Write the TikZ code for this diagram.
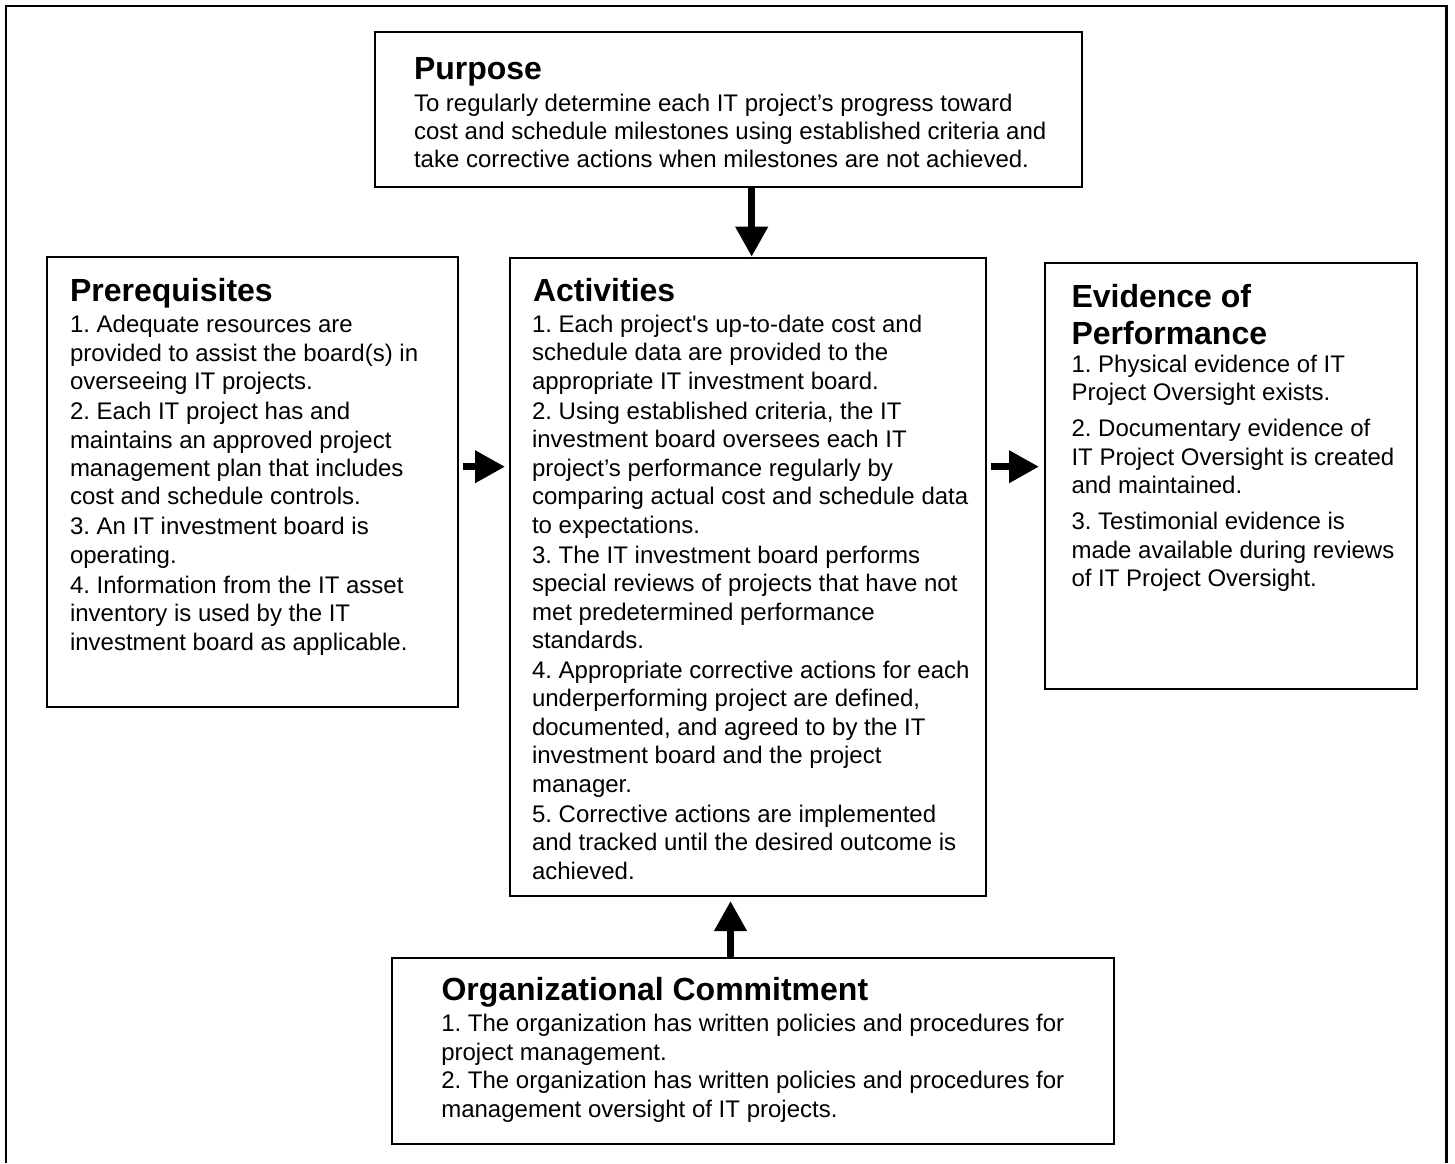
\documentclass[tikz,border=0pt]{standalone}
\usepackage{fontspec}
\setmainfont{Liberation Sans}
\usetikzlibrary{arrows.meta}
\frenchspacing
\newcommand\lne[1]{\hbox{#1}}
\newcommand\gap[1]{\vskip #1\relax}
\newcommand\bodytext[2]{\vtop{\fontsize{12}{#1}\selectfont #2}}
\begin{document}
\begin{tikzpicture}[x=0.5pt,y=-0.5pt,
  box/.style={draw, line width=1pt, inner sep=0pt, anchor=north west},
  txt/.style={inner sep=0pt, outer sep=0pt, anchor=base west},
  ttl/.style={font=\fontsize{16}{18.3}\selectfont\bfseries},
  bigarrow/.style={line width=3.5pt, -{Triangle[length=15pt,width=15.5pt]}}]
\useasboundingbox (0,0) rectangle (1455,1163);
% outer frame (open at the bottom)
\draw[line width=1.1pt] (6,1163) -- (6,6) -- (1446.5,6) -- (1446.5,1163);

% boxes
\node[box, minimum width=353.5pt, minimum height=77.35pt] (purpose) at (374,31) {};
\node[box, minimum width=205.65pt, minimum height=225pt] (prereq) at (46,256) {};
\node[box, minimum width=237.75pt, minimum height=319.15pt] (activ) at (509,256.7) {};
\node[box, minimum width=186pt, minimum height=213.3pt] (evid) at (1044,261.7) {};
\node[box, minimum width=361.3pt, minimum height=93.3pt] (orgc) at (390.7,956.7) {};

% Purpose
\node[txt, ttl] (purposeT) at (414,79.3) {Purpose};
\node[txt] (purposeB) at (414,111) {\bodytext{14.2pt}{%
  \lne{To regularly determine each IT project’s progress toward}
  \lne{cost and schedule milestones using established criteria and}
  \lne{take corrective actions when milestones are not achieved.}}};

% Prerequisites
\node[txt, ttl] (prereqT) at (70,301.7) {Prerequisites};
\node[txt] (prereqB) at (70,332.7) {\bodytext{14.225pt}{%
  \lne{1. Adequate resources are}
  \lne{provided to assist the board(s) in}
  \lne{overseeing IT projects.}\gap{0.75pt}
  \lne{2. Each IT project has and}
  \lne{maintains an approved project}
  \lne{management plan that includes}
  \lne{cost and schedule controls.}\gap{0.75pt}
  \lne{3. An IT investment board is}
  \lne{operating.}\gap{0.75pt}
  \lne{4. Information from the IT asset}
  \lne{inventory is used by the IT}
  \lne{investment board as applicable.}}};

% Activities
\node[txt, ttl] (activT) at (533,301) {Activities};
\node[txt] (activB) at (532,332.5) {\bodytext{14.225pt}{%
  \lne{1. Each project\textquotesingle s up-to-date cost and}
  \lne{schedule data are provided to the}
  \lne{appropriate IT investment board.}\gap{0.75pt}
  \lne{2. Using established criteria, the IT}
  \lne{investment board oversees each IT}
  \lne{project’s performance regularly by}
  \lne{comparing actual cost and schedule data}
  \lne{to expectations.}\gap{0.75pt}
  \lne{3. The IT investment board performs}
  \lne{special reviews of projects that have not}
  \lne{met predetermined performance}
  \lne{standards.}\gap{0.75pt}
  \lne{4. Appropriate corrective actions for each}
  \lne{underperforming project are defined,}
  \lne{documented, and agreed to by the IT}
  \lne{investment board and the project}
  \lne{manager.}\gap{0.75pt}
  \lne{5. Corrective actions are implemented}
  \lne{and tracked until the desired outcome is}
  \lne{achieved.}}};

% Evidence of Performance
\node[txt, ttl] (evidT) at (1071.5,307.7) {\vtop{\fontsize{16}{18.3}\selectfont\bfseries
  \lne{Evidence of}
  \lne{Performance}}};
\node[txt] (evidB) at (1071.5,372.3) {\bodytext{14.25pt}{%
  \lne{1. Physical evidence of IT}
  \lne{Project Oversight exists.}\gap{3.75pt}
  \lne{2. Documentary evidence of}
  \lne{IT Project Oversight is created}
  \lne{and maintained.}\gap{3.75pt}
  \lne{3. Testimonial evidence is}
  \lne{made available during reviews}
  \lne{of IT Project Oversight.}}};

% Organizational Commitment
\node[txt, ttl] (orgcT) at (441.5,1000.7) {Organizational Commitment};
\node[txt] (orgcB) at (441.3,1031.7) {\bodytext{14.17pt}{%
  \lne{1. The organization has written policies and procedures for}
  \lne{project management.}\gap{0.25pt}
  \lne{2. The organization has written policies and procedures for}
  \lne{management oversight of IT projects.}}};

% arrow guide coordinates
\coordinate (xtop) at (751.7,0);
\coordinate (xbot) at (730.5,0);
\coordinate (ymid) at (0,466.7);

% connectors
\draw[bigarrow] (purpose.south -| xtop) -- (activ.north -| xtop);
\draw[bigarrow, shorten <=2pt, shorten >=2pt] (prereq.east |- ymid) -- (activ.west |- ymid);
\draw[bigarrow, shorten <=2.25pt, shorten >=2.5pt] (activ.east |- ymid) -- (evid.west |- ymid);
\draw[bigarrow, shorten >=2pt] (orgc.north -| xbot) -- (activ.south -| xbot);
\end{tikzpicture}
\end{document}
